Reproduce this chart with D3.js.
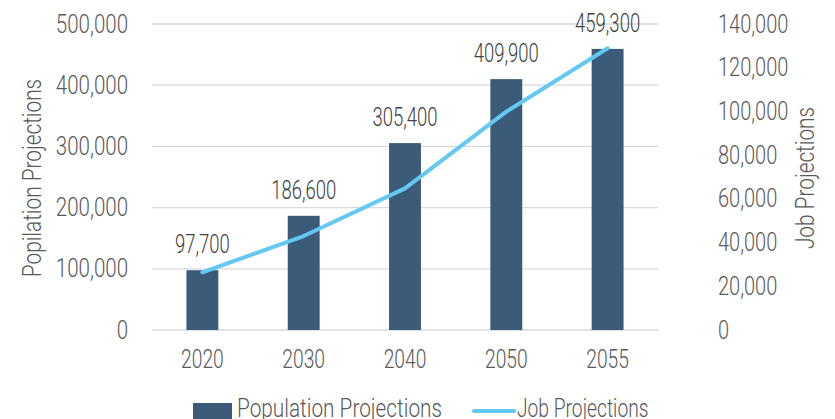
<!DOCTYPE html>
<html>
<head>
<meta charset="utf-8">
<script src="https://cdn.jsdelivr.net/npm/d3@7"></script>
<style>
  body { margin: 0; background: #fff; }
  text { font-family: Roboto, "Noto Sans", sans-serif; font-weight: 300; }
</style>
</head>
<body>
<div id="visualization"></div>
<script>
// data
var years = ["2020", "2030", "2040", "2050", "2055"];
var population = [97700, 186600, 305400, 409900, 459300];
var jobs = [26400, 43000, 64800, 99900, 128900];
var leftTicks = [0, 100000, 200000, 300000, 400000, 500000];
var rightTicks = [0, 20000, 40000, 60000, 80000, 100000, 120000, 140000];

var W = 835, H = 419;
var margin = {top: 24, right: 177, bottom: 89, left: 152},
    width = W - margin.left - margin.right,
    height = H - margin.top - margin.bottom;

var fmt = d3.format(",");
var barColor = "#3b5b79", lineColor = "#63c8f2", textColor = "#595959";

// no condensed font installed, so squeeze text horizontally around its x anchor
function condense(sel, k) {
  sel.each(function() {
    var t = d3.select(this);
    var x0 = +t.attr("x") || 0;
    var tr = t.attr("transform") || "";
    t.attr("transform", tr + " translate(" + x0 + ",0) scale(" + k + ",1) translate(" + (-x0) + ",0)");
  });
}

var svg = d3.select("#visualization").append("svg")
    .attr("width", W)
    .attr("height", H);

var g = svg.append("g")
    .attr("transform", "translate(" + margin.left + "," + margin.top + ")");

var x = d3.scaleBand().domain(years).range([0, width]).paddingInner(0.685).paddingOuter(0.34);
var yL = d3.scaleLinear().domain([0, 500000]).range([height, 0]);
var yR = d3.scaleLinear().domain([0, 140000]).range([height, 0]);

// gridlines
g.selectAll(".grid")
    .data(leftTicks)
    .enter().append("line")
    .attr("x1", 0).attr("x2", width)
    .attr("y1", function(d) { return yL(d); })
    .attr("y2", function(d) { return yL(d); })
    .attr("stroke", "#d9d9d9")
    .attr("stroke-width", 1.3);

// left axis
var leftAxis = g.append("g")
    .call(d3.axisLeft(yL).tickValues(leftTicks).tickFormat(fmt).tickSize(0).tickPadding(24));
leftAxis.select(".domain").remove();
leftAxis.selectAll("text").attr("font-size", 25).attr("fill", textColor)
    .style("font-family", "Roboto, sans-serif").call(condense, 0.82);

// right axis
var rightAxis = g.append("g")
    .attr("transform", "translate(" + width + ",0)")
    .call(d3.axisRight(yR).tickValues(rightTicks).tickFormat(fmt).tickSize(0).tickPadding(60));
rightAxis.select(".domain").remove();
rightAxis.selectAll("text").attr("font-size", 25).attr("fill", textColor)
    .style("font-family", "Roboto, sans-serif").call(condense, 0.8);

// x axis
var xAxis = g.append("g")
    .attr("transform", "translate(0," + height + ")")
    .call(d3.axisBottom(x).tickSize(0).tickPadding(20));
xAxis.select(".domain").remove();
xAxis.selectAll("text").attr("font-size", 25).attr("fill", textColor)
    .style("font-family", "Roboto, sans-serif").call(condense, 0.77);

// bars
g.selectAll(".bar")
    .data(population)
    .enter().append("rect")
    .attr("class", "bar")
    .attr("x", function(d, i) { return x(years[i]); })
    .attr("width", x.bandwidth())
    .attr("y", function(d) { return yL(d); })
    .attr("height", function(d) { return height - yL(d); })
    .attr("fill", barColor);

// bar labels
g.selectAll(".lbl")
    .data(population)
    .enter().append("text")
    .attr("x", function(d, i) { return x(years[i]) + x.bandwidth() / 2; })
    .attr("y", function(d) { return yL(d) - 17; })
    .attr("text-anchor", "middle")
    .attr("font-size", 25)
    .attr("fill", "#404040")
    .text(function(d) { return fmt(d); })
    .call(condense, 0.74);

// job line
var line = d3.line()
    .x(function(d, i) { return x(years[i]) + x.bandwidth() / 2; })
    .y(function(d) { return yR(d); });

g.append("path")
    .datum(jobs)
    .attr("d", line)
    .attr("fill", "none")
    .attr("stroke", lineColor)
    .attr("stroke-width", 4)
    .attr("stroke-linecap", "round")
    .attr("stroke-linejoin", "round");

// axis titles
svg.append("text")
    .attr("transform", "translate(41,178) rotate(-90)")
    .attr("text-anchor", "middle")
    .attr("font-size", 26)
    .attr("fill", textColor)
    .text("Popilation Projections")
    .call(condense, 0.8);

svg.append("text")
    .attr("transform", "translate(814,178) rotate(-90)")
    .attr("text-anchor", "middle")
    .attr("font-size", 26)
    .attr("fill", textColor)
    .text("Job Projections")
    .call(condense, 0.8);

// legend
var leg = svg.append("g");
leg.append("rect")
    .attr("x", 193).attr("y", 403)
    .attr("width", 39).attr("height", 16)
    .attr("fill", barColor);
leg.append("text")
    .attr("x", 237).attr("y", 417)
    .attr("font-size", 26)
    .attr("fill", textColor)
    .text("Population Projections")
    .call(condense, 0.8);
leg.append("line")
    .attr("x1", 474).attr("x2", 514)
    .attr("y1", 411).attr("y2", 411)
    .attr("stroke", lineColor)
    .attr("stroke-width", 4)
    .attr("stroke-linecap", "round");
leg.append("text")
    .attr("x", 517).attr("y", 417)
    .attr("font-size", 26)
    .attr("fill", textColor)
    .text("Job Projections")
    .call(condense, 0.74);
</script>
</body>
</html>
